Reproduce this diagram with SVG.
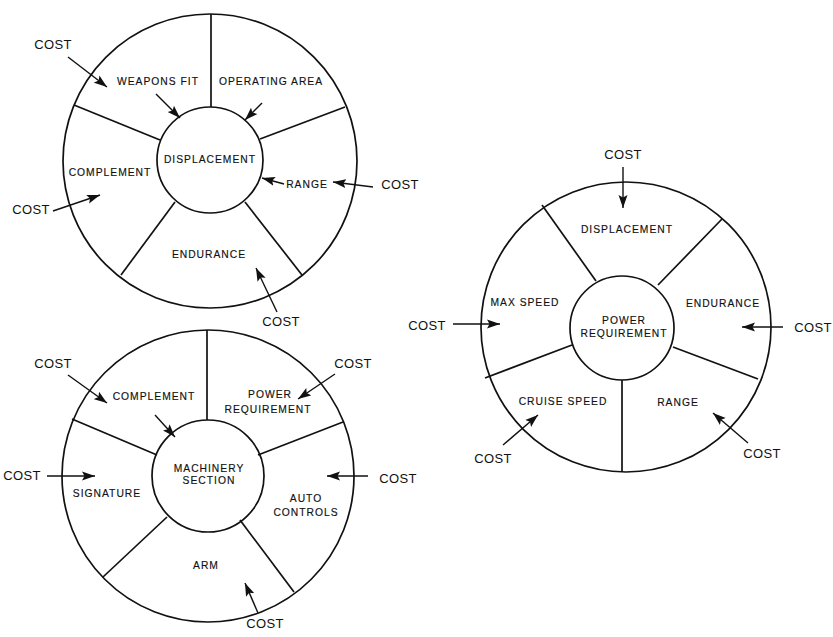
<svg xmlns="http://www.w3.org/2000/svg" width="833" height="637" viewBox="0 0 833 637">
<style>
.c{fill:none;stroke:#111;stroke-width:1.7}
.s{stroke:#111;stroke-width:1.7}
.a{stroke:#111;stroke-width:1.4;marker-end:url(#ah)}
.l{font-family:"Liberation Sans",Arial,sans-serif;font-size:10.3px;letter-spacing:1px;fill:#111;stroke:#111;stroke-width:0.15;text-anchor:middle}
.k{font-family:"Liberation Sans",Arial,sans-serif;font-size:13px;letter-spacing:0.3px;fill:#111;text-anchor:middle}
</style>
<defs>
<marker id="ah" markerUnits="userSpaceOnUse" markerWidth="14" markerHeight="10" refX="13" refY="5" orient="auto">
<path d="M0,0.5 L13,5 L0,9.5 L2.5,5 z" fill="#111"/>
</marker>
</defs>
<rect width="833" height="637" fill="#fff"/>

<g id="wheel1">
<circle class="c" cx="210" cy="161" r="147"/>
<circle class="c" cx="210" cy="160" r="53"/>
<line class="s" x1="211" y1="14" x2="211" y2="107"/>
<line class="s" x1="345" y1="107" x2="260" y2="139"/>
<line class="s" x1="74" y1="105" x2="160" y2="140"/>
<line class="s" x1="121" y1="275" x2="175" y2="202"/>
<line class="s" x1="302" y1="275" x2="245" y2="202"/>
<text class="l" x="158" y="84.5">WEAPONS FIT</text>
<text class="l" x="271" y="84.5">OPERATING AREA</text>
<text class="l" x="210" y="162.5">DISPLACEMENT</text>
<text class="l" x="110" y="175.5">COMPLEMENT</text>
<text class="l" x="307" y="187.5">RANGE</text>
<text class="l" x="209" y="257.5">ENDURANCE</text>
<text class="k" x="53" y="48.6">COST</text>
<text class="k" x="31" y="213.6">COST</text>
<text class="k" x="400" y="188.6">COST</text>
<text class="k" x="281" y="325.6">COST</text>
</g>

<g id="wheel2">
<circle class="c" cx="208" cy="476" r="146"/>
<circle class="c" cx="208" cy="476" r="56"/>
<line class="s" x1="207" y1="330" x2="207" y2="420"/>
<line class="s" x1="343" y1="422" x2="258" y2="455"/>
<line class="s" x1="72" y1="419" x2="157" y2="455"/>
<line class="s" x1="103" y1="577" x2="167" y2="517"/>
<line class="s" x1="294" y1="592" x2="240" y2="520"/>
<text class="l" x="154" y="399.5">COMPLEMENT</text>
<text class="l" x="270" y="397.5">POWER</text>
<text class="l" x="268" y="412.5">REQUIREMENT</text>
<text class="l" x="209" y="471.5">MACHINERY</text>
<text class="l" x="209" y="483.5">SECTION</text>
<text class="l" x="107" y="496.5">SIGNATURE</text>
<text class="l" x="306" y="501.5">AUTO</text>
<text class="l" x="306" y="515.5">CONTROLS</text>
<text class="l" x="206" y="568.5">ARM</text>
<text class="k" x="53" y="367.6">COST</text>
<text class="k" x="353" y="367.6">COST</text>
<text class="k" x="22" y="479.6">COST</text>
<text class="k" x="398" y="482.6">COST</text>
<text class="k" x="265" y="627.6">COST</text>
</g>

<g id="wheel3">
<circle class="c" cx="626" cy="327" r="145"/>
<circle class="c" cx="622" cy="328" r="52"/>
<line class="s" x1="622" y1="380" x2="622" y2="472"/>
<line class="s" x1="542" y1="205" x2="596" y2="281"/>
<line class="s" x1="722" y1="219" x2="658" y2="285"/>
<line class="s" x1="485" y1="378" x2="572" y2="345"/>
<line class="s" x1="758" y1="379" x2="673" y2="347"/>
<text class="l" x="627" y="232.5">DISPLACEMENT</text>
<text class="l" x="525" y="305.5">MAX SPEED</text>
<text class="l" x="723" y="306.5">ENDURANCE</text>
<text class="l" x="624" y="323.5">POWER</text>
<text class="l" x="624" y="336.5">REQUIREMENT</text>
<text class="l" x="563" y="404.5">CRUISE SPEED</text>
<text class="l" x="678" y="405.5">RANGE</text>
<text class="k" x="623" y="158.6">COST</text>
<text class="k" x="427" y="329.6">COST</text>
<text class="k" x="813" y="331.6">COST</text>
<text class="k" x="493" y="462.6">COST</text>
<text class="k" x="762" y="457.6">COST</text>
</g>

<g id="connectors">
<line class="a" x1="68" y1="57" x2="107" y2="87"/>
<line class="a" x1="156" y1="94" x2="180" y2="118"/>
<line class="a" x1="262" y1="103" x2="245" y2="120"/>
<line class="a" x1="284" y1="184" x2="262" y2="178"/>
<line class="a" x1="373" y1="187" x2="333" y2="182"/>
<line class="a" x1="53" y1="211" x2="100" y2="195"/>
<line class="a" x1="277" y1="312" x2="256" y2="268"/>
<line class="a" x1="68" y1="375" x2="107" y2="403"/>
<line class="a" x1="155" y1="415" x2="175" y2="437"/>
<line class="a" x1="335" y1="374" x2="298" y2="399"/>
<line class="a" x1="47" y1="476" x2="95" y2="476"/>
<line class="a" x1="368" y1="476" x2="327" y2="476"/>
<line class="a" x1="258" y1="613" x2="245" y2="583"/>
<line class="a" x1="623" y1="167" x2="623" y2="208"/>
<line class="a" x1="453" y1="324" x2="500" y2="324"/>
<line class="a" x1="783" y1="327" x2="742" y2="327"/>
<line class="a" x1="503" y1="445" x2="538" y2="415"/>
<line class="a" x1="748" y1="443" x2="713" y2="413"/>
</g>
</svg>
